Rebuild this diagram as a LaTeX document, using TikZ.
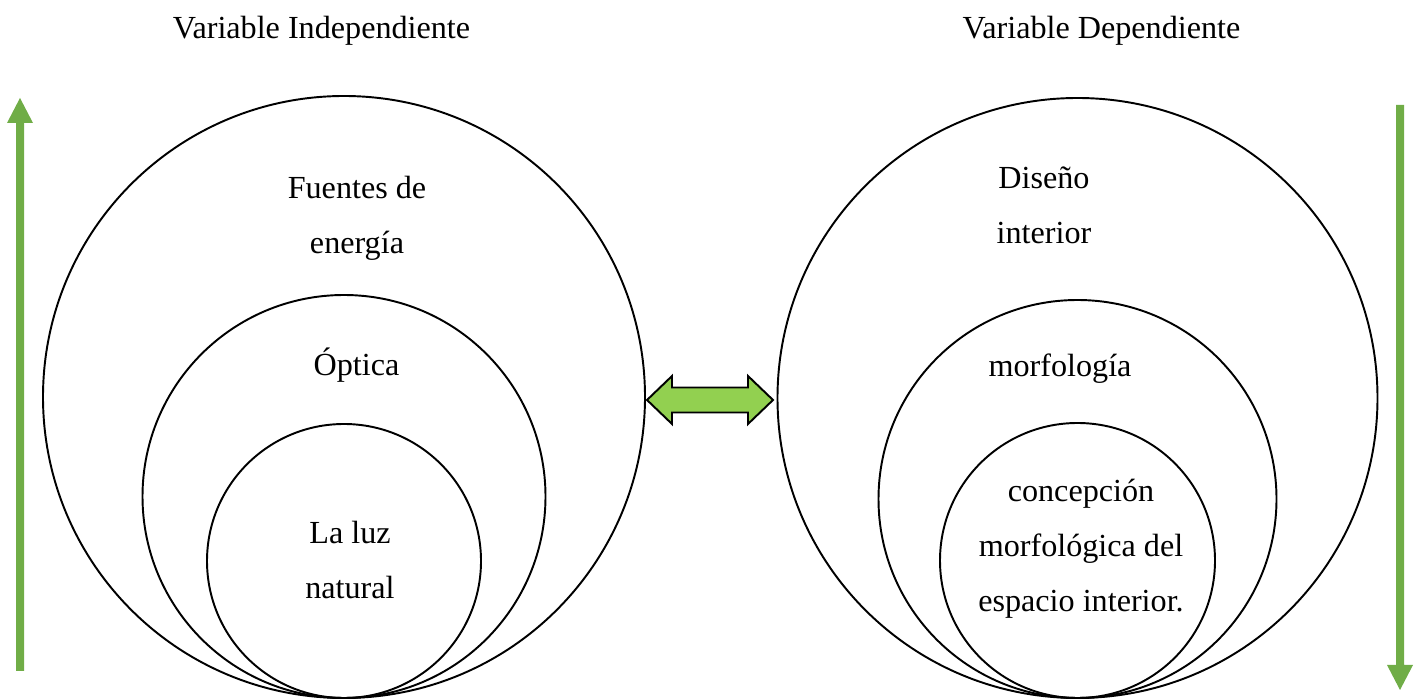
\documentclass[tikz,border=0pt]{standalone}
\usepackage{fontspec}
\setmainfont{Liberation Serif}
\usepackage{xcolor}
\usepackage{tikz}

\definecolor{verdeflecha}{RGB}{112,173,71}
\definecolor{verdeclaro}{RGB}{146,208,80}

\begin{document}
\begin{tikzpicture}[
        circulo/.style = {draw = black, circle, line width = 1.1pt, inner sep = 0pt, outer sep = 0pt},
        texto/.style = {align = center, font = \fontsize{18.3}{31.2}\selectfont}
    ]
    \useasboundingbox (0, 0) rectangle (28.4, 14);

    % variable independiente: tres circulos tangentes abajo
    \node[circulo, minimum size = 12.04cm] (fuentes) at (6.88, 6.06) {};
    \node[circulo, minimum size = 8.06cm] (optica) at (6.88, 4.07) {};
    \node[circulo, minimum size = 5.48cm] (luz) at (6.88, 2.78) {};

    \node[texto, anchor = base] (titulo izq) at (6.43, 13.22) {Variable Independiente};
    \node[texto] (txt fuentes) at (7.14, 9.64) {Fuentes de\\energía};
    \node[texto] (txt optica) at (7.13, 6.7) {Óptica};
    \node[texto] (txt luz) at (7.0, 2.8) {La luz\\natural};

    % variable dependiente
    \node[circulo, minimum size = 12.0cm] (diseno) at (21.55, 6.04) {};
    \node[circulo, minimum size = 7.96cm] (morfo) at (21.55, 4.02) {};
    \node[circulo, minimum size = 5.5cm] (concep) at (21.55, 2.79) {};

    \node[texto, anchor = base] (titulo der) at (22.03, 13.22) {Variable Dependiente};
    \node[texto] (txt diseno) at (20.88, 9.9) {Diseño\\interior};
    \node[texto] (txt morfo) at (21.2, 6.62) {morfología};
    \node[texto] (txt concep) at (21.62, 3.02) {concepción\\morfológica del\\espacio interior.};

    % flecha doble entre las dos variables
    \filldraw[draw = black, fill = verdeclaro, line width = 1.1pt]
        (12.94, 6) -- (13.44, 6.48) -- (13.44, 6.25) -- (14.96, 6.25) -- (14.96, 6.48)
        -- (15.46, 6) -- (14.96, 5.52) -- (14.96, 5.75) -- (13.44, 5.75) -- (13.44, 5.52) -- cycle;

    % flechas laterales
    \fill[verdeflecha] (0.32, 0.58) -- (0.32, 11.54) -- (0.14, 11.54) -- (0.4, 12.04)
        -- (0.66, 11.54) -- (0.48, 11.54) -- (0.48, 0.58) -- cycle;
    \fill[verdeflecha] (27.92, 11.9) -- (27.92, 0.7) -- (27.74, 0.7) -- (28.0, 0.2)
        -- (28.26, 0.7) -- (28.08, 0.7) -- (28.08, 11.9) -- cycle;
\end{tikzpicture}
\end{document}
